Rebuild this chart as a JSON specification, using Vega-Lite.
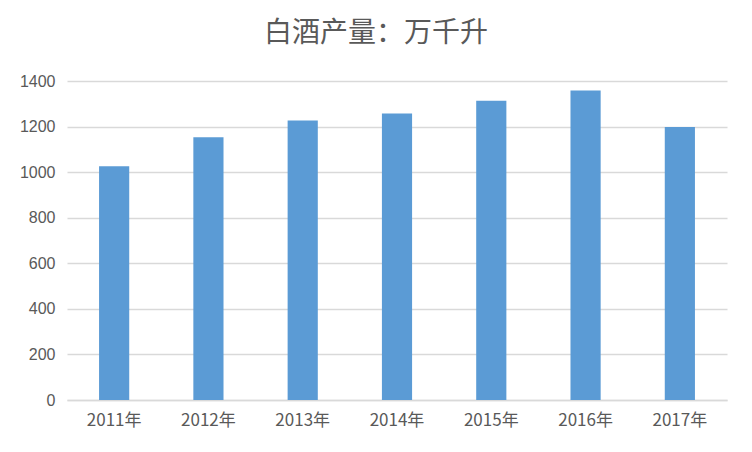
{
  "$schema": "https://vega.github.io/schema/vega-lite/v6.json",
  "autosize": "none",
  "width": 660,
  "height": 319,
  "padding": {"left": 67, "top": 81, "right": 25, "bottom": 52},
  "background": "white",
  "title": {
    "text": "白酒产量：万千升",
    "font": "Noto Sans CJK SC",
    "fontSize": 28,
    "fontWeight": "normal",
    "color": "#595959",
    "anchor": "middle",
    "dx": -21,
    "offset": 25
  },
  "data": {
    "values": [
      {"year": "2011年", "output": 1025.6},
      {"year": "2012年", "output": 1153.2},
      {"year": "2013年", "output": 1226.2},
      {"year": "2014年", "output": 1257.1},
      {"year": "2015年", "output": 1312.8},
      {"year": "2016年", "output": 1358.4},
      {"year": "2017年", "output": 1198.1}
    ]
  },
  "mark": {"type": "bar", "color": "#5b9bd5"},
  "encoding": {
    "x": {
      "field": "year",
      "type": "ordinal",
      "title": null,
      "scale": {"paddingInner": 0.68, "paddingOuter": 0.34},
      "axis": {
        "labelAngle": 0,
        "labelFont": "Noto Sans CJK SC",
        "labelFontSize": 17,
        "labelColor": "#595959",
        "labelPadding": 12,
        "ticks": false,
        "domainColor": "#d9d9d9",
        "domainWidth": 1.5
      }
    },
    "y": {
      "field": "output",
      "type": "quantitative",
      "title": null,
      "scale": {"domain": [0, 1400]},
      "axis": {
        "values": [0, 200, 400, 600, 800, 1000, 1200, 1400],
        "format": "d",
        "labelFont": "Liberation Sans",
        "labelFontSize": 16,
        "labelColor": "#595959",
        "labelPadding": 12,
        "ticks": false,
        "domain": false,
        "gridColor": "#d9d9d9",
        "gridWidth": 1.5
      }
    }
  },
  "config": {"view": {"stroke": null}}
}
